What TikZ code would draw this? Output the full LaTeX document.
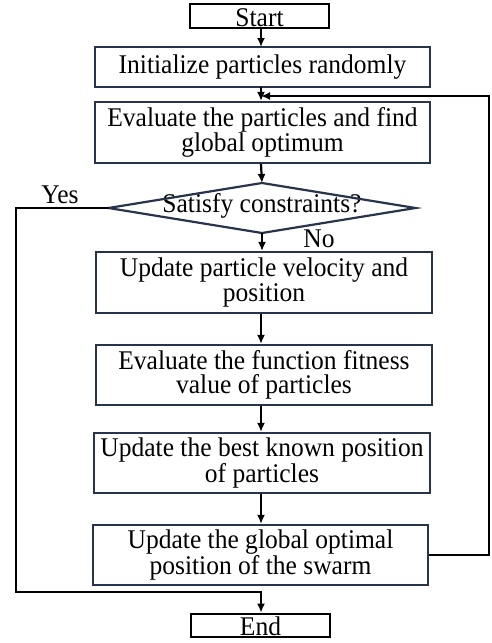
\documentclass[tikz,border=0pt]{standalone}
\usepackage{fontspec}
\setmainfont{Liberation Serif}[FakeStretch=0.945]
\usetikzlibrary{arrows.meta}
\definecolor{boxc}{RGB}{40,52,75}
\begin{document}
\begin{tikzpicture}[x=1pt,y=-1pt,
 proc/.style={draw=boxc,line width=2.2pt,inner sep=0pt,align=center,font=\fontsize{27}{24.5}\selectfont},
 term/.style={draw=black,line width=2.8pt,inner sep=0pt,text height=20pt,text depth=0pt,font=\fontsize{27}{24.5}\selectfont},
 conn/.style={line width=2.2pt,-{Latex[length=9pt,width=8pt]}},
 lbl/.style={inner sep=0pt,font=\fontsize{27}{24.5}\selectfont}]
\useasboundingbox (0,0) rectangle (491,643);
\fill[white] (0,0) rectangle (491,643);
\node[term,minimum width=139pt,minimum height=24pt] (start) at (259.5,16) {Start};
\node[proc,minimum width=335pt,minimum height=40pt] (init) at (262.5,67) {Initialize particles randomly};
\node[proc,minimum width=335pt,minimum height=61pt] (eval) at (262.5,132.5) {Evaluate the particles and find\\global optimum};
\node[lbl] (dec) at (262,206) {Satisfy constraints?};
\draw[draw=boxc,line width=2.2pt] (dec.center) ++(-153.5,2) coordinate (decW) -- ++(153.5,-25) coordinate (decN) -- ++(153.5,25) coordinate (decE) -- ++(-153.5,25) coordinate (decS) -- cycle;
\node[proc,minimum width=336pt,minimum height=61pt] (vel) at (264,282.5) {Update particle velocity and\\position};
\node[proc,minimum width=336pt,minimum height=60pt] (fit) at (264,375) {Evaluate the function fitness\\value of particles};
\node[proc,minimum width=336pt,minimum height=60pt] (best) at (262,463) {Update the best known position\\of particles};
\node[proc,minimum width=335pt,minimum height=60pt] (glob) at (260.5,555) {Update the global optimal\\position of the swarm};
\node[term,minimum width=139pt,minimum height=23pt] (end) at (260.5,625.5) {End};
\node[lbl] (yes) at (60,195) {Yes};
\node[lbl] (no) at (319,239) {No};
\coordinate (join) at (261,96);
\coordinate (rtop) at (489,96);
\coordinate (rbot) at (489,555);
\coordinate (ltop) at (16,208);
\coordinate (lbot) at (16,592);
\coordinate (bjoin) at (261,592);
\draw[conn] (start.south -| 261,0) -- (261,47);
\draw[conn] (261,87) -- (eval.north -| 261,0);
\draw[conn] (eval.south -| 261,0) -- (decN);
\draw[conn] (decS) -- (vel.north -| decS);
\draw[conn] (vel.south -| 261,0) -- (fit.north -| 261,0);
\draw[conn] (fit.south -| 261,0) -- (best.north -| 261,0);
\draw[conn] (best.south -| 261,0) -- (glob.north -| 261,0);
\draw[conn] (glob.east) -- (rbot) -- (rtop) -- (join);
\draw[conn] (decW) -- (ltop) -- (lbot) -- (bjoin) -- (end.north -| bjoin);
\end{tikzpicture}
\end{document}
